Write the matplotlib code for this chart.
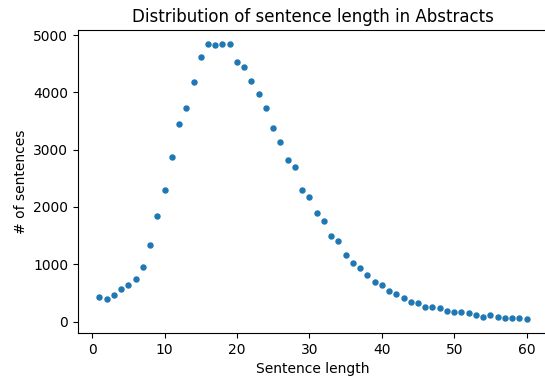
import numpy as np
import matplotlib
matplotlib.use('Agg')
import matplotlib.pyplot as plt

# sentence length (words) and number of sentences with that length
lengths = list(range(1, 61))
counts = [429, 394, 469, 561, 637, 735, 955, 1343, 1840, 2303,
          2865, 3455, 3733, 4190, 4618, 4850, 4820, 4844, 4844, 4537,
          4444, 4201, 3976, 3733, 3374, 3142, 2812, 2691, 2303, 2182,
          1898, 1759, 1493, 1412, 1157, 1030, 932, 816, 683, 637,
          538, 474, 417, 335, 330, 260, 248, 243, 179, 174,
          174, 144, 116, 87, 122, 81, 64, 69, 58, 40]

fig = plt.figure(figsize=(5.45, 3.76), dpi=100)
# the original figure was cropped just left of the right spine
ax = fig.add_axes([78 / 545, (376 - 333) / 376, 470 / 545, 303 / 376])

ax.scatter(lengths, counts, s=13, color='#1f77b4')
ax.set_title('Distribution of sentence length in Abstracts')
ax.set_xlabel('Sentence length')
ax.set_ylabel('# of sentences')
ax.spines['right'].set_visible(False)

fig.savefig('out.png', dpi=100)
